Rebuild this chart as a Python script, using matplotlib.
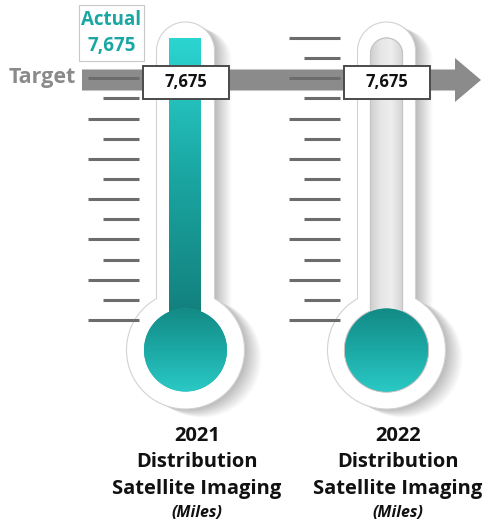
import numpy as np
import matplotlib
matplotlib.use("Agg")
import matplotlib.pyplot as plt
from matplotlib.patches import Polygon, Rectangle, Circle
from matplotlib.colors import LinearSegmentedColormap

# data
years = ["2021", "2022"]
actual = [7675, 0]
target = 7675
box_values = [7675, 7675]
label_lines = ["Distribution", "Satellite Imaging"]
unit = "(Miles)"

plt.rcParams['font.family'] = ['Open Sans', 'DejaVu Sans']

fig = plt.figure(figsize=(4.85, 5.27), dpi=100)
ax = fig.add_axes([0, 0, 1, 1])
ax.set_xlim(0, 485)
ax.set_ylim(527, 0)
ax.axis('off')

teal_col = LinearSegmentedColormap.from_list("tc", ["#2bd4d0", "#1aa5a1", "#13807d"])
teal_bulb = LinearSegmentedColormap.from_list("tb", ["#138a86", "#1ca9a5", "#2ac9c5"])
gray_trk = LinearSegmentedColormap.from_list("gt", ["#cfcfcf", "#e6e6e6", "#eeeeee", "#d6d6d6"])


def outline(cx, top, hw, bcy, br, n=80):
    t = np.linspace(np.pi, 0, n)
    xs = list(cx + hw * np.cos(t))
    ys = list(top + hw - hw * np.sin(t))
    a0 = np.arccos(hw / br)
    a = np.linspace(a0, -np.pi - a0, 2 * n)
    xs += list(cx + br * np.cos(a))
    ys += list(bcy - br * np.sin(a))
    return np.column_stack([xs, ys])


def grad_fill(patch, cmap, x0, x1, y0, y1, horizontal=False, z=3):
    ax.add_patch(patch)
    if horizontal:
        g = np.linspace(0, 1, 64).reshape(1, -1)
    else:
        g = np.linspace(0, 1, 64).reshape(-1, 1)
    im = ax.imshow(g, cmap=cmap, extent=(x0, x1, y1, y0), aspect='auto',
                   zorder=z, interpolation='bicubic')
    im.set_clip_path(patch)


centers = [185.5, 386.5]
label_x = [197, 398]
tick_y = np.linspace(38, 320, 15)
col_top, col_bottom = 38, 318

for i, cx in enumerate(centers):
    bcy = 350
    shape = outline(cx, 22, 29, bcy, 59)
    # soft shadow
    for k in range(1, 18):
        ax.add_patch(Polygon(shape + [k * 1.0, k * 0.5], closed=True,
                             facecolor='black', edgecolor='none', alpha=0.016, zorder=1))
    ax.add_patch(Polygon(shape, closed=True, facecolor='white',
                         edgecolor='#d2d2d2', lw=0.8, zorder=2))

    frac = min(actual[i] / target, 1.0)
    if frac < 1:
        trk = Polygon(outline(cx, col_top, 16, bcy, 42), closed=True,
                      facecolor='#e2e2e2', edgecolor='#c4c4c4', lw=0.8, zorder=3)
        grad_fill(trk, gray_trk, cx - 16, cx + 16, 30, 330, horizontal=True, z=3)
        ax.add_patch(Polygon(outline(cx, col_top, 16, bcy, 42), closed=True,
                             facecolor='none', edgecolor='#c4c4c4', lw=0.8, zorder=3.5))

    # column (below the bulb so they merge)
    if frac > 0:
        top_y = col_bottom - frac * (col_bottom - col_top)
        col = Rectangle((cx - 16, top_y), 32, bcy - top_y,
                        facecolor='#1fb5b1', edgecolor='none', zorder=3.8)
        grad_fill(col, teal_col, cx - 16, cx + 16, top_y, col_bottom, z=3.8)

    # bulb
    bulb = Circle((cx, bcy), 41.5, facecolor='#1ca9a5', edgecolor='none', zorder=4)
    grad_fill(bulb, teal_bulb, cx - 42, cx + 42, bcy - 42, bcy + 42, z=4)

    # scale ticks
    for j, ty in enumerate(tick_y):
        x0 = cx - 97 if j % 2 == 0 else cx - 82
        ax.plot([x0, cx - 46], [ty, ty], color='#6c6c6c', lw=2.2,
                solid_capstyle='butt', zorder=6)

    # labels under thermometer
    ax.text(label_x[i], 436, years[i], ha='center', va='center',
            fontsize=14.5, fontweight='bold', color='#111111')
    for k, line in enumerate(label_lines):
        ax.text(label_x[i], 462 + 27 * k, line, ha='center', va='center',
                fontsize=14.5, fontweight='bold', color='#111111')
    ax.text(label_x[i], 513, unit, ha='center', va='center', fontsize=11.5,
            fontweight='bold', fontstyle='italic', color='#111111')

# target arrow
arrow = [(82, 69.5), (455, 69.5), (455, 58), (481, 80), (455, 102),
         (455, 90.5), (82, 90.5)]
ax.add_patch(Polygon(arrow, closed=True, facecolor='#8b8b8b', edgecolor='none', zorder=5))
ax.text(42, 77, "Target", ha='center', va='center', fontsize=15.5,
        fontweight='bold', color='#8a8a8a')

# value boxes
for i, cx in enumerate(centers):
    ax.add_patch(Rectangle((cx - 42.5, 65.5), 86, 33, facecolor='white',
                           edgecolor='#4a4a4a', lw=1.4, zorder=7))
    ax.text(cx + 0.5, 82, f"{box_values[i]:,}", ha='center', va='center',
            fontsize=12, fontweight='bold', color='#111111', zorder=8)

# actual callout
ax.add_patch(Rectangle((79, 5), 65, 56, facecolor='white', edgecolor='#c8c8c8',
                       lw=0.8, zorder=7))
ax.text(111.5, 20, "Actual", ha='center', va='center', fontsize=13.5,
        fontweight='bold', color='#1aa7a3', zorder=8)
ax.text(111.5, 46, f"{actual[0]:,}", ha='center', va='center', fontsize=13.5,
        fontweight='bold', color='#1aa7a3', zorder=8)

fig.savefig("out.png", dpi=100)
